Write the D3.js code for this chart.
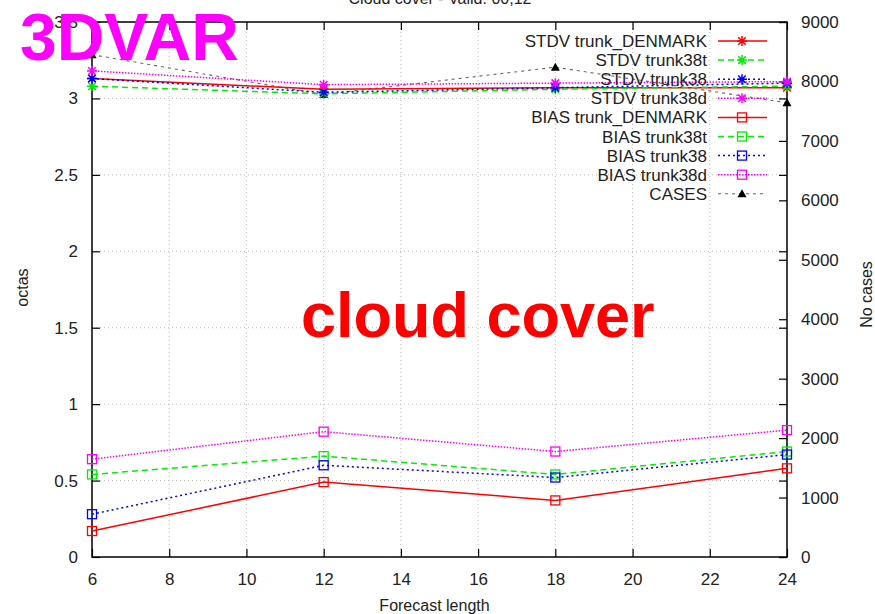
<!DOCTYPE html>
<html>
<head>
<meta charset="utf-8">
<script src="https://cdn.jsdelivr.net/npm/d3@7"></script>
<style>
  body { margin: 0; background: #fff; }
  svg { font-family: "Liberation Sans", Arial, sans-serif; }
</style>
</head>
<body>
<div id="chart"></div>
<script>
// forecast lengths (hours)
const leads = [6, 12, 18, 24];

// STDV series (octas)
const stdvDenmark = [3.13, 3.06, 3.07, 3.07];
const stdv38t = [3.08, 3.03, 3.06, 3.08];
const stdv38 = [3.13, 3.04, 3.07, 3.10];
const stdv38d = [3.18, 3.09, 3.10, 3.11];

// BIAS series (octas)
const biasDenmark = [0.17, 0.49, 0.37, 0.58];
const bias38t = [0.54, 0.66, 0.54, 0.69];
const bias38 = [0.28, 0.60, 0.52, 0.67];
const bias38d = [0.64, 0.82, 0.69, 0.83];

// number of cases (right axis)
const cases = [8450, 7780, 8240, 7640];

const xTicks = [6, 8, 10, 12, 14, 16, 18, 20, 22, 24];
const yTicks = [0, 0.5, 1, 1.5, 2, 2.5, 3, 3.5];
const y2Ticks = [0, 1000, 2000, 3000, 4000, 5000, 6000, 7000, 8000, 9000];

const series = [
  { name: "STDV trunk_DENMARK", values: stdvDenmark, color: "#ff0000", dash: null, marker: "star" },
  { name: "STDV trunk38t", values: stdv38t, color: "#00ee00", dash: "6,4", marker: "star" },
  { name: "STDV trunk38", values: stdv38, color: "#0000ff", dash: "2,3", marker: "star" },
  { name: "STDV trunk38d", values: stdv38d, color: "#ff00ff", dash: "1.5,1.5", marker: "star" },
  { name: "BIAS trunk_DENMARK", values: biasDenmark, color: "#ff0000", dash: null, marker: "square" },
  { name: "BIAS trunk38t", values: bias38t, color: "#00ee00", dash: "6,4", marker: "square" },
  { name: "BIAS trunk38", values: bias38, color: "#0000ff", dash: "2,3", marker: "square" },
  { name: "BIAS trunk38d", values: bias38d, color: "#ff00ff", dash: "1.5,1.5", marker: "square" }
];

const width = 875, height = 614;
const margin = { top: 22, right: 88, bottom: 57, left: 92 };

const svg = d3.select("#chart").append("svg")
  .attr("width", width)
  .attr("height", height);

const x = d3.scaleLinear().domain([6, 24]).range([margin.left, width - margin.right]);
const y = d3.scaleLinear().domain([0, 3.5]).range([height - margin.bottom, margin.top]);
const y2 = d3.scaleLinear().domain([0, 9000]).range([height - margin.bottom, margin.top]);

// grid
const grid = svg.append("g").attr("stroke", "#bbb").attr("stroke-width", 1).attr("stroke-dasharray", "1,3");
xTicks.slice(1, -1).forEach(t => {
  grid.append("line").attr("x1", x(t)).attr("x2", x(t)).attr("y1", y(0)).attr("y2", y(3.5));
});
yTicks.slice(1, -1).forEach(t => {
  grid.append("line").attr("x1", x(6)).attr("x2", x(24)).attr("y1", y(t)).attr("y2", y(t));
});

// title (mostly cut off at top, as in the original)
svg.append("text")
  .attr("x", 440).attr("y", 4)
  .attr("text-anchor", "middle")
  .attr("font-size", 16).attr("fill", "#222")
  .text("Cloud cover - Valid: 00,12");

// frame
svg.append("rect")
  .attr("x", x(6)).attr("y", y(3.5))
  .attr("width", x(24) - x(6)).attr("height", y(0) - y(3.5))
  .attr("fill", "none").attr("stroke", "#000").attr("stroke-width", 1.5);

// axes (gnuplot style: ticks inward, mirrored)
const tickLen = 8;
const xAxisB = svg.append("g").attr("transform", `translate(0,${y(0)})`)
  .call(d3.axisBottom(x).tickValues(xTicks).tickSize(-tickLen).tickPadding(tickLen + 8));
const xAxisT = svg.append("g").attr("transform", `translate(0,${y(3.5)})`)
  .call(d3.axisTop(x).tickValues(xTicks).tickSize(-tickLen).tickFormat(""));
const yAxisL = svg.append("g").attr("transform", `translate(${x(6)},0)`)
  .call(d3.axisLeft(y).tickValues(yTicks).tickSize(-tickLen).tickPadding(tickLen + 6).tickFormat(d3.format("")));
const yAxisR = svg.append("g").attr("transform", `translate(${x(24)},0)`)
  .call(d3.axisRight(y2).tickValues(y2Ticks).tickSize(-tickLen).tickPadding(tickLen + 6).tickFormat(d3.format("d")));
const yAxisRm = svg.append("g").attr("transform", `translate(${x(24)},0)`)
  .call(d3.axisRight(y).tickValues(yTicks).tickSize(-tickLen).tickFormat(""));

[xAxisB, xAxisT, yAxisL, yAxisR, yAxisRm].forEach(a => {
  a.select(".domain").remove();
  a.selectAll(".tick line").attr("stroke", "#000").attr("stroke-width", 1.2);
  a.selectAll("text").attr("font-size", 17).attr("fill", "#222")
    .attr("font-family", "'Liberation Sans', Arial, sans-serif");
});

// axis labels
svg.append("text")
  .attr("x", x(15) - 5).attr("y", 611)
  .attr("text-anchor", "middle").attr("font-size", 16).attr("fill", "#222")
  .text("Forecast length");
svg.append("text")
  .attr("transform", `translate(28,${y(1.75) - 2}) rotate(-90)`)
  .attr("text-anchor", "middle").attr("font-size", 16).attr("fill", "#222")
  .text("octas");
svg.append("text")
  .attr("transform", `translate(872,${y(1.75) + 5}) rotate(-90)`)
  .attr("text-anchor", "middle").attr("font-size", 16).attr("fill", "#222")
  .text("No cases");

// markers
function drawMarker(g, kind, cx, cy, color) {
  const s = 5;
  if (kind === "star") {
    g.append("path")
      .attr("d", `M${cx - s},${cy}H${cx + s}M${cx},${cy - s}V${cy + s}M${cx - s * 0.75},${cy - s * 0.75}L${cx + s * 0.75},${cy + s * 0.75}M${cx - s * 0.75},${cy + s * 0.75}L${cx + s * 0.75},${cy - s * 0.75}`)
      .attr("stroke", color).attr("stroke-width", 1.5).attr("fill", "none");
  } else if (kind === "square") {
    g.append("rect").attr("x", cx - 4.5).attr("y", cy - 4.5).attr("width", 9).attr("height", 9)
      .attr("stroke", color).attr("stroke-width", 1.3).attr("fill", "none");
  } else if (kind === "triangle") {
    g.append("path").attr("d", `M${cx},${cy - 4.5}L${cx + 4.5},${cy + 3.5}L${cx - 4.5},${cy + 3.5}Z`)
      .attr("fill", "#000");
  }
}

const plot = svg.append("g");
const line = d3.line().x((d, i) => x(leads[i]));

// cases line (right axis)
plot.append("path")
  .attr("d", line.y(d => y2(d))(cases))
  .attr("fill", "none").attr("stroke", "#666").attr("stroke-width", 1.1).attr("stroke-dasharray", "3,4");
cases.forEach((d, i) => drawMarker(plot, "triangle", x(leads[i]), y2(d), "#000"));

series.forEach(s => {
  plot.append("path")
    .attr("d", line.y(d => y(d))(s.values))
    .attr("fill", "none").attr("stroke", s.color).attr("stroke-width", 1.5)
    .attr("stroke-dasharray", s.dash);
  s.values.forEach((d, i) => drawMarker(plot, s.marker, x(leads[i]), y(d), s.color));
});

// legend
const legendItems = series.concat([{ name: "CASES", color: "#666", dash: "3,4", marker: "triangle" }]);
const legend = svg.append("g");
legendItems.forEach((s, i) => {
  const ly = 41 + i * 19.1;
  legend.append("text")
    .attr("x", 707).attr("y", ly + 6)
    .attr("text-anchor", "end").attr("font-size", 17).attr("fill", "#222")
    .text(s.name);
  legend.append("line")
    .attr("x1", 718).attr("x2", 767).attr("y1", ly).attr("y2", ly)
    .attr("stroke", s.color).attr("stroke-width", s.marker === "triangle" ? 1.1 : 1.5)
    .attr("stroke-dasharray", s.dash);
  drawMarker(legend, s.marker, 742, ly, s.marker === "triangle" ? "#000" : s.color);
});

// overlay labels
svg.append("text")
  .attr("x", 20).attr("y", 60)
  .attr("font-size", 66).attr("font-weight", "bold").attr("fill", "#ff00ff")
  .attr("font-family", "'Liberation Sans', Arial, sans-serif")
  .text("3DVAR");
svg.append("text")
  .attr("x", 301).attr("y", 337)
  .attr("font-size", 63).attr("font-weight", "bold").attr("fill", "#ff0000")
  .attr("font-family", "'Liberation Sans', Arial, sans-serif")
  .text("cloud cover");
</script>
</body>
</html>
